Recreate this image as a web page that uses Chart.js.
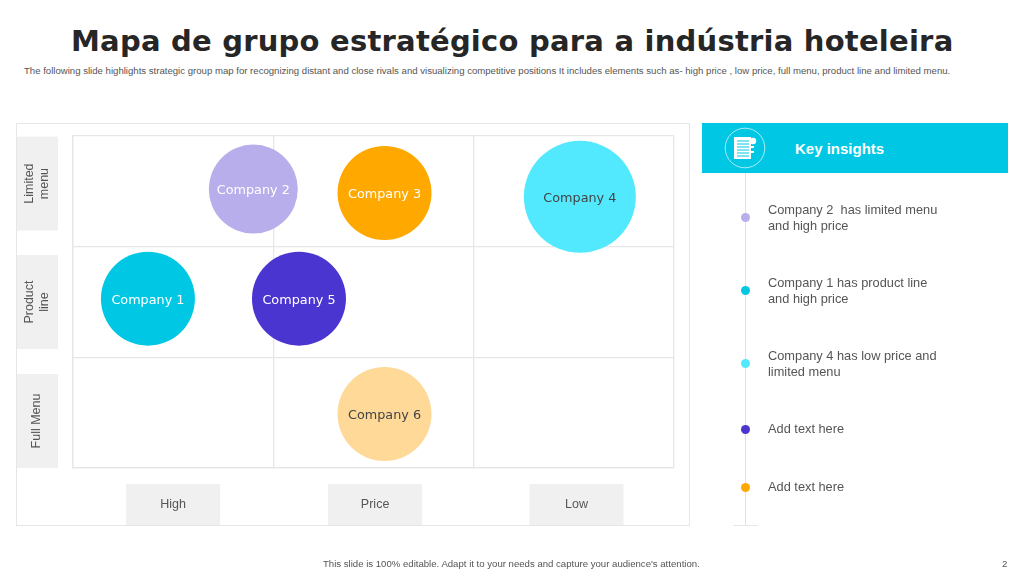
<!DOCTYPE html>
<html><head><meta charset="utf-8">
<script src="https://cdn.jsdelivr.net/npm/chart.js@4"></script>
<style>
html,body{margin:0;padding:0;background:#fff;width:1024px;height:576px;overflow:hidden}
.t{position:absolute;white-space:pre;font-family:"Liberation Sans",Arial,sans-serif}
#title{left:71px;top:24px;font:bold 29px "DejaVu Sans",sans-serif;letter-spacing:.23px;color:#262626}
#sub{left:24px;top:65px;font-size:9.6px;color:#555}
#foot{left:323px;top:558px;font-size:9.6px;color:#555}
#page{left:1002px;top:558px;font-size:9.6px;color:#555}
#frame{position:absolute;left:16px;top:123px;width:672px;height:401px;border:1px solid #e6e6e6}
#head{position:absolute;left:702px;top:123px;width:306px;height:50px;background:#00c8e4}
#key{left:795px;top:140px;font-size:15px;font-weight:bold;color:#fff}
#vline{position:absolute;left:745px;top:173px;width:1px;height:352px;background:#e2e2e6}
#hfoot{position:absolute;left:733px;top:525px;width:25px;height:1px;background:#e6e6e6}
.dot{position:absolute;left:741px;width:9px;height:9px;border-radius:50%}
.ins{left:768px;font-size:12.8px;line-height:16px;color:#555}
canvas{position:absolute;left:0;top:0}
svg{position:absolute;left:724px;top:127px}
</style></head><body>
<div class="t" id="title">Mapa de grupo estratégico para a indústria hoteleira</div>
<div class="t" id="sub">The following slide highlights strategic group map for recognizing distant and close rivals and visualizing competitive positions It includes elements such as- high price , low price, full menu, product line and limited menu.</div>
<div id="frame"></div>
<canvas id="c" width="1024" height="576"></canvas>
<div id="head"></div>
<svg width="42" height="42" viewBox="0 0 42 42">
<circle cx="21" cy="21" r="19.8" fill="none" stroke="#a8ecf6" stroke-width="1"/>
<path d="M10 10h17v22H10z" fill="#fff"/>
<path d="M13 14h12M13 17h12M13 20h12M13 23h12M13 26h12M13 29h12" stroke="#00c8e4" stroke-width="1"/>
<circle cx="29" cy="14" r="3.2" fill="#fff"/><path d="M27 19h3v2h-3zM27 24h3v2h-3z" fill="#fff"/>
</svg>
<div class="t" id="key">Key insights</div>
<div id="vline"></div><div id="hfoot"></div>
<div id="side"></div>
<div class="t" id="foot">This slide is 100% editable. Adapt it to your needs and capture your audience's attention.</div>
<div class="t" id="page">2</div>
<script>
const companies = ["Company 1","Company 2","Company 3","Company 4","Company 5","Company 6"];
const priceValues = [0.374,0.90,1.555,2.53,1.128,1.555];
const menuValues = [1.53,2.52,2.485,2.45,1.53,0.488];
const bubbleSizes = [47,44.5,47,56,47,47];
const bubbleColors = ["#00c8e4","#b7aeeb","#ffa900","#52e9ff","#4b35d0","#ffd998"];
const labelColors = ["#fff","#fff","#fff","#444","#fff","#444"];
const priceLabels = ["High","Price","Low"];
const priceTicks = [0.5,1.508,2.513];
const menuLabels = [["Full Menu"],["Product","line"],["Limited","menu"]];
const menuTicks = [0.425,1.5,2.57];
const insights = [["Company 2  has limited menu\nand high price",217,"#b7aeeb",202],["Company 1 has product line\nand high price",290,"#00c8e4",275],["Company 4 has low price and\nlimited menu",363,"#52e9ff",348],["Add text here",429,"#4b35d0",421],["Add text here",487,"#ffa900",479]];

const side=document.getElementById('side');
insights.forEach(([txt,y,col,top])=>{
  const d=document.createElement('div');d.className='dot';d.style.top=(y-4)+'px';d.style.background=col;side.appendChild(d);
  const t=document.createElement('div');t.className='t ins';t.style.top=top+'px';t.textContent=txt;side.appendChild(t);
});

const labelsPlugin={id:'labelsPlugin',
  beforeDraw(chart){
    const ctx=chart.ctx,x=chart.scales.x,y=chart.scales.y;
    ctx.save();
    ctx.textAlign='center';ctx.textBaseline='middle';
    ctx.font='12.5px "Liberation Sans",Arial,sans-serif';
    priceLabels.forEach((l,i)=>{
      const cx=x.getPixelForValue(priceTicks[i]);
      ctx.fillStyle='#f0f0f0';ctx.fillRect(cx-47,484,94,41);
      ctx.fillStyle='#555';ctx.fillText(l,cx,505);
    });
    menuLabels.forEach((lines,i)=>{
      const cy=y.getPixelForValue(menuTicks[i]);
      ctx.fillStyle='#f0f0f0';ctx.fillRect(17,cy-47,41,94);
      ctx.save();ctx.translate(37,cy);ctx.rotate(-Math.PI/2);ctx.fillStyle='#555';
      lines.forEach((s,k)=>ctx.fillText(s,0,(k-(lines.length-1)/2)*15.5));
      ctx.restore();
    });
    ctx.restore();
  },
  afterDatasetsDraw(chart){
    const ctx=chart.ctx,x=chart.scales.x,y=chart.scales.y;
    ctx.save();ctx.textAlign='center';ctx.textBaseline='middle';
    ctx.font='12.8px "DejaVu Sans",sans-serif';
    companies.forEach((c,i)=>{
      ctx.fillStyle=labelColors[i];
      ctx.fillText(c,x.getPixelForValue(priceValues[i]),y.getPixelForValue(menuValues[i])+1.5);
    });
    ctx.restore();
  }
};
new Chart(document.getElementById('c'),{
  type:'bubble',
  data:{datasets:[{label:'Companies',
    data:companies.map((c,i)=>({x:priceValues[i],y:menuValues[i],r:bubbleSizes[i]})),
    backgroundColor:bubbleColors,borderWidth:0,hoverBorderWidth:0}]},
  options:{responsive:false,animation:false,
    layout:{padding:{left:73,right:350,top:136,bottom:108}},
    plugins:{legend:{display:false},title:{display:false},tooltip:{enabled:false}},
    scales:{
      x:{type:'linear',min:0,max:3,ticks:{display:false,stepSize:1},grid:{color:'#e6e6e6',drawTicks:false,lineWidth:1.3},border:{color:'#e6e6e6',width:1.3}},
      y:{type:'linear',min:0,max:3,ticks:{display:false,stepSize:1},grid:{color:'#e6e6e6',drawTicks:false,lineWidth:1.3},border:{color:'#e6e6e6',width:1.3}}
    }
  },
  plugins:[labelsPlugin]
});
</script>
</body></html>
